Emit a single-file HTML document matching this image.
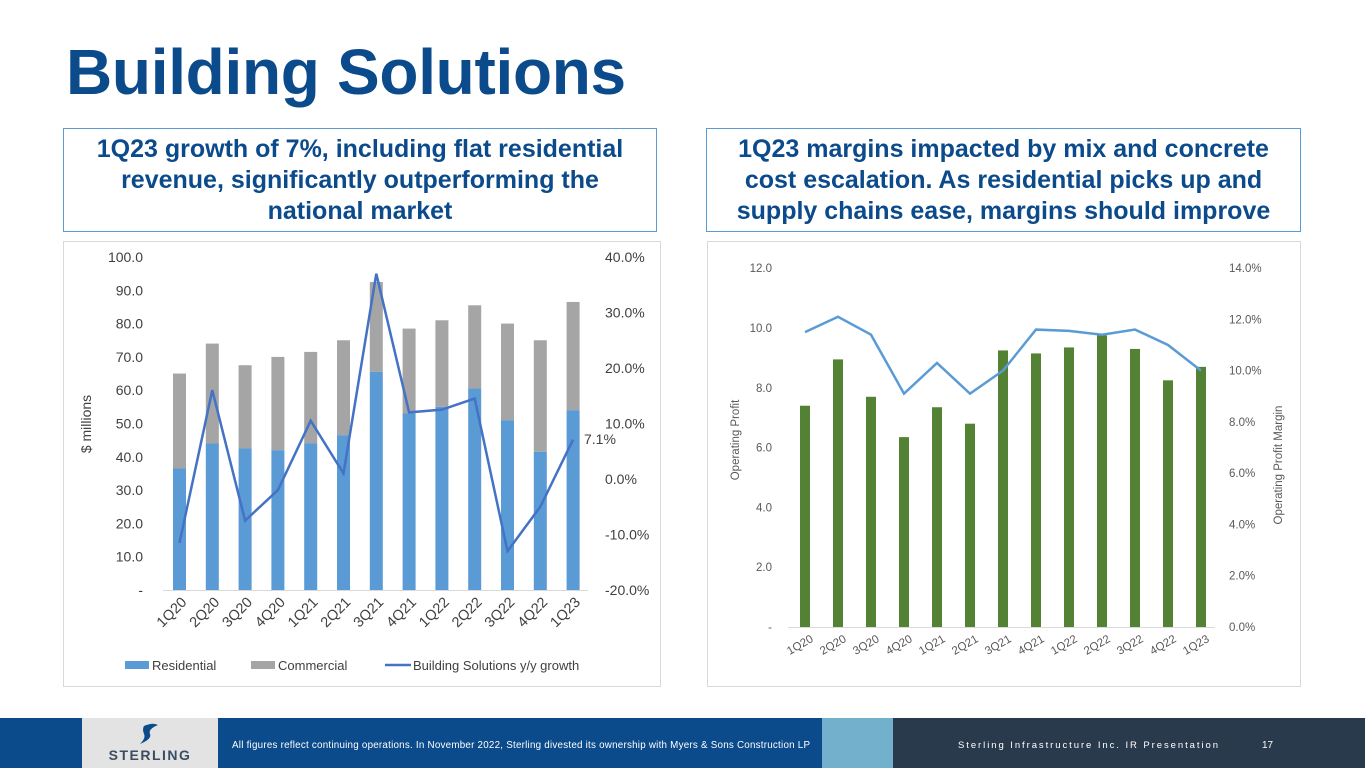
<!DOCTYPE html>
<html><head><meta charset="utf-8">
<style>
body{margin:0;width:1365px;height:768px;overflow:hidden;background:#fff;font-family:"Liberation Sans",sans-serif;position:relative}
.title{position:absolute;left:66px;top:35px;font-size:64px;font-weight:bold;color:#0b4a8b;letter-spacing:-0.3px}
.box{position:absolute;top:128px;height:104px;border:1.5px solid #5b9bd5;box-sizing:border-box;display:flex;align-items:center;justify-content:center;text-align:center;font-weight:bold;font-size:25px;line-height:31px;color:#0b4a8b;white-space:nowrap}
svg{position:absolute;left:0;top:0}
</style></head><body>
<div class="title">Building Solutions</div>
<div class="box" style="left:63px;width:594px">1Q23 growth of 7%, including flat residential<br>revenue, significantly outperforming the<br>national market</div>
<div class="box" style="left:706px;width:595px">1Q23 margins impacted by mix and concrete<br>cost escalation. As residential picks up and<br>supply chains ease, margins should improve</div>
<svg id="s" width="1365" height="768"></svg>
<script>
const cats=["1Q20","2Q20","3Q20","4Q20","1Q21","2Q21","3Q21","4Q21","1Q22","2Q22","3Q22","4Q22","1Q23"];
const residential=[36.5,44,42.5,42,44,46.5,65.5,53,55,60.5,51,41.5,54];
const totals=[65,74,67.5,70,71.5,75,92.5,78.5,81,85.5,80,75,86.5];
const growth=[-11.5,16,-7.5,-2,10.5,1,37,12,12.5,14.5,-13,-5,7.1];
const leftTicks=["-","10.0","20.0","30.0","40.0","50.0","60.0","70.0","80.0","90.0","100.0"];
const rightTicks=["-20.0%","-10.0%","0.0%","10.0%","20.0%","30.0%","40.0%"];
const profit=[7.4,8.95,7.7,6.35,7.35,6.8,9.25,9.15,9.35,9.75,9.3,8.25,8.7];
const margin=[11.5,12.1,11.4,9.1,10.3,9.1,10.0,11.6,11.55,11.4,11.6,11.0,10.0];
const profTicks=["-","2.0","4.0","6.0","8.0","10.0","12.0"];
const margTicks=["0.0%","2.0%","4.0%","6.0%","8.0%","10.0%","12.0%","14.0%"];
const s=document.getElementById('s');const NS="http://www.w3.org/2000/svg";
function el(t,a,txt,name){const e=document.createElementNS(NS,t);for(const k in a)e.setAttribute(k,a[k]);if(txt!==undefined)e.textContent=txt;


s.appendChild(e);return e;}
el('rect',{x:63.5,y:241.5,width:597,height:445,fill:'none',stroke:'#d9d9d9'},undefined,'left-chart-frame');
el('rect',{x:707.5,y:241.5,width:593,height:445,fill:'none',stroke:'#d9d9d9'},undefined,'right-chart-frame');
const x1=i=>179.5+i*32.8, yL=v=>590-v*3.33, yR=v=>479-v*5.55;
el('line',{x1:163,x2:588,y1:590.5,y2:590.5,stroke:'#d9d9d9'},undefined,'left-x-axis');
leftTicks.forEach((t,i)=>el('text',{x:143,y:yL(i*10)+5,'text-anchor':'end','font-size':14,fill:'#404040'},t,'left-y-tick'));
rightTicks.forEach((t,i)=>el('text',{x:605,y:yR(-20+i*10)+5,'font-size':14,fill:'#404040'},t,'left-y2-tick'));
el('text',{transform:'translate(91,424) rotate(-90)','text-anchor':'middle','font-size':14,fill:'#404040'},'$ millions','left-y-axis-title');
cats.forEach((c,i)=>{
 el('rect',{x:x1(i)-6.5,y:yL(totals[i]),width:13,height:(totals[i]-residential[i])*3.33,fill:'#a5a5a5'},undefined,'bar-commercial-'+c);
 el('rect',{x:x1(i)-6.5,y:yL(residential[i]),width:13,height:residential[i]*3.33,fill:'#5b9bd5'},undefined,'bar-residential-'+c);
 el('text',{transform:`translate(${x1(i)+8},603) rotate(-45)`,'text-anchor':'end','font-size':14.5,fill:'#404040'},c,'left-x-tick');
});
el('polyline',{points:growth.map((g,i)=>x1(i)+','+yR(g)).join(' '),fill:'none',stroke:'#4472c4','stroke-width':2.5},undefined,'growth-line');
el('text',{x:584,y:444,'font-size':14,fill:'#404040'},growth[12].toFixed(1)+'%','growth-label-1q23');
el('rect',{x:125,y:661,width:24,height:8,fill:'#5b9bd5'},undefined,'legend-residential-swatch');
el('text',{x:152,y:670,'font-size':13,fill:'#404040'},'Residential','legend-residential');
el('rect',{x:251,y:661,width:24,height:8,fill:'#a5a5a5'},undefined,'legend-commercial-swatch');
el('text',{x:278,y:670,'font-size':13,fill:'#404040'},'Commercial','legend-commercial');
el('line',{x1:385,x2:411,y1:665,y2:665,stroke:'#4472c4','stroke-width':2.5},undefined,'legend-growth-swatch');
el('text',{x:413,y:670,'font-size':13,fill:'#404040'},'Building Solutions y/y growth','legend-growth');
const x2=i=>805+i*33, yP=v=>627-v*29.9, yM=v=>627-v*25.64;
el('line',{x1:788,x2:1215,y1:627.5,y2:627.5,stroke:'#d9d9d9'},undefined,'right-x-axis');
profTicks.forEach((t,i)=>el('text',{x:772,y:yP(i*2)+4,'text-anchor':'end','font-size':11.5,fill:'#595959'},t,'right-y-tick'));
margTicks.forEach((t,i)=>el('text',{x:1229,y:yM(i*2)+4,'font-size':11.5,fill:'#595959'},t,'right-y2-tick'));
el('text',{transform:'translate(739,440) rotate(-90)','text-anchor':'middle','font-size':11.5,fill:'#595959'},'Operating Profit','right-y-axis-title');
el('text',{transform:'translate(1282,465) rotate(-90)','text-anchor':'middle','font-size':11.5,fill:'#595959'},'Operating Profit Margin','right-y2-axis-title');
cats.forEach((c,i)=>{
 el('rect',{x:x2(i)-5,y:yP(profit[i]),width:10,height:profit[i]*29.9,fill:'#548235'},undefined,'bar-profit-'+c);
 el('text',{transform:`translate(${x2(i)+9},641) rotate(-30)`,'text-anchor':'end','font-size':11.5,fill:'#595959'},c,'right-x-tick');
});
el('polyline',{points:margin.map((m,i)=>x2(i)+','+yM(m)).join(' '),fill:'none',stroke:'#5b9bd5','stroke-width':2.5},undefined,'margin-line');
el('rect',{x:0,y:718,width:1365,height:50,fill:'#2a3a4d'},undefined,'footer');
el('rect',{x:0,y:718,width:82,height:50,fill:'#0b4a8b'},undefined,'footer-left-band');
el('rect',{x:82,y:718,width:136,height:50,fill:'#e3e3e3'},undefined,'footer-logo-bg');
el('rect',{x:218,y:718,width:604,height:50,fill:'#0b4a8b'},undefined,'footer-note-band');
el('rect',{x:822,y:718,width:71,height:50,fill:'#72b0cc'},undefined,'footer-accent');
el('path',{d:'M144 726 Q153 722 158 725 Q148 729 150 734 Q152 739 140 744 Q146 738 144 734 Q142 729 144 726Z',fill:'#0b4a8b'},undefined,'logo-mark');
el('text',{x:150,y:760,'text-anchor':'middle','font-size':14,'font-weight':'bold',fill:'#3b4d63','letter-spacing':'1.5'},'STERLING','logo-text');
el('text',{x:232,y:748,'font-size':9.8,fill:'#ffffff',textLength:578},'All figures reflect continuing operations. In November 2022, Sterling divested its ownership with Myers  & Sons Construction LP','footer-note');
el('text',{x:958,y:748,'font-size':9.5,fill:'#ffffff',textLength:260},'Sterling Infrastructure Inc. IR Presentation','footer-title');
el('text',{x:1262,y:748,'font-size':10,fill:'#ffffff'},'17','page-number');
</script>
</body></html>
